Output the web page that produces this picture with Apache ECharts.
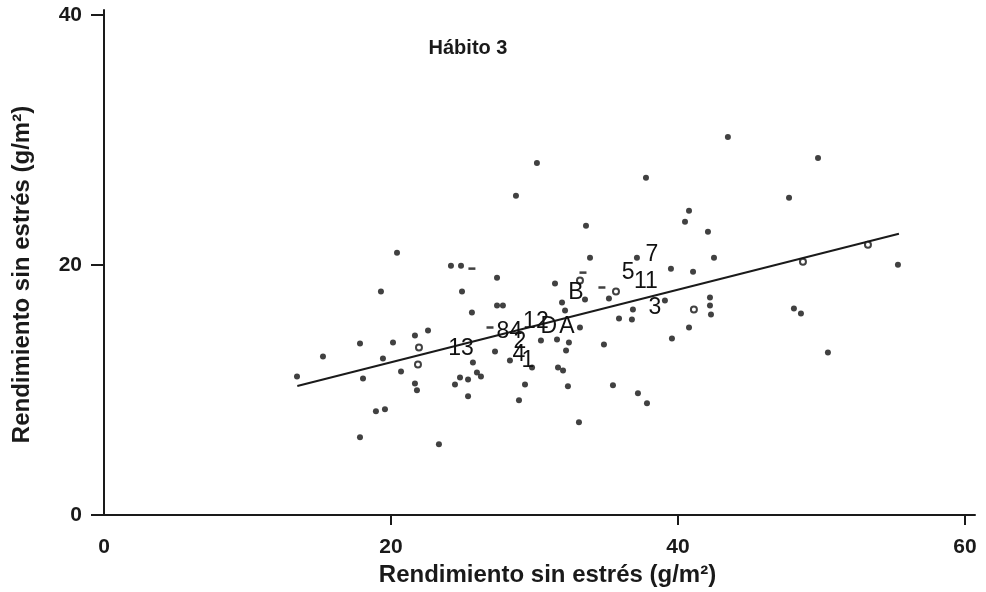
<!DOCTYPE html>
<html>
<head>
<meta charset="utf-8">
<script src="https://cdn.jsdelivr.net/npm/echarts@6/dist/echarts.min.js"></script>
<style>html,body{margin:0;padding:0;background:#fff;}#c{width:986px;height:592px;}</style>
</head>
<body>
<div id="c"></div>
<script>
// Filled points [x, y]
var filledPoints = [
  [43.48,30.25],[49.76,28.57],[30.17,28.17],[37.77,26.98],[47.74,25.38],[28.71,25.54],
  [40.77,24.34],[40.49,23.46],[33.59,23.14],[42.09,22.67],[20.42,20.99],[33.87,20.59],
  [37.14,20.59],[24.18,19.95],[24.88,19.95],[39.51,19.71],[41.05,19.47],[42.51,20.59],
  [27.39,18.99],[31.43,18.52],[35.19,17.32],[33.52,17.24],[19.30,17.88],[24.95,17.88],
  [55.33,20.03],[39.09,17.16],[42.23,17.40],[42.23,16.76],[42.30,16.04],[40.77,15.00],
  [48.08,16.52],[48.57,16.12],[50.45,13.01],[31.92,17.00],[36.86,16.44],[27.39,16.76],
  [27.80,16.76],[25.64,16.20],[32.13,16.36],[35.89,15.72],[36.79,15.64],[39.58,14.13],
  [34.84,13.65],[33.17,15.00],[32.40,13.81],[32.20,13.17],[31.57,14.05],[30.45,13.97],
  [31.64,11.81],[31.99,11.57],[32.33,10.30],[35.47,10.38],[37.21,9.74],[37.84,8.94],
  [33.10,7.42],[29.34,10.45],[28.92,9.18],[29.83,11.81],[28.29,12.37],[27.25,13.09],
  [25.71,12.21],[25.99,11.41],[26.27,11.09],[24.81,11.01],[25.37,10.85],[24.46,10.45],
  [25.37,9.50],[21.67,10.53],[21.81,9.98],[19.58,8.46],[18.95,8.30],[23.34,5.67],
  [20.14,13.81],[21.67,14.37],[22.58,14.76],[19.44,12.53],[20.70,11.49],[17.84,13.73],
  [15.26,12.69],[13.45,11.09],[18.05,10.93],[17.84,6.23]
];
// Open-circle points [x, y]
var openPoints = [
  [48.71,20.27],[41.11,16.44],[21.95,13.41],[21.88,12.05],[33.17,18.76],[35.68,17.88],[53.24,21.63]
];
// Short dash marks [x, y]
var dashPoints = [
  [26.90,15.00],[34.70,18.20],[33.38,19.39],[25.64,19.71]
];
// Text labels [x, y, text]
var textLabels = [
  [24.88,13.33,'13'],[27.80,14.68,'8'],[28.71,14.68,'4'],[30.10,15.45,'12'],[31.00,15.08,'D'],
  [32.26,15.08,'A'],[28.99,13.89,'2'],[28.92,12.85,'4'],[29.55,12.37,'1'],[32.89,17.80,'B'],
  [36.52,19.39,'5'],[38.19,20.83,'7'],[37.77,18.68,'11'],[38.40,16.60,'3']
];
// Regression line end points [x, y]
var regressionLine = [[13.47,10.32],[55.40,22.50]];
// Ticks
var xTicks = [0,20,40,60];
var xTickMarks = [20,40,60];
var yTicks = [0,20,40];

var chart = echarts.init(document.getElementById('c'), null, {renderer:'canvas'});
var ink = '#1a1a1a';
var option = {
  backgroundColor:'#ffffff',
  animation:false,
  title:{
    text:'Hábito 3', left:463, top:33, textAlign:'center',
    textStyle:{fontFamily:'Liberation Sans', fontWeight:'bold', fontSize:20, color:ink}
  },
  grid:{left:104, right:11, top:10, bottom:76},
  xAxis:{
    type:'value', min:0, max:60.7, interval:20,
    name:'Rendimiento sin estrés (g/m²)', nameLocation:'middle', nameGap:48,
    nameTextStyle:{fontFamily:'Liberation Sans', fontWeight:'bold', fontSize:24, color:ink, padding:[0,0,0,16]},
    axisLine:{show:true, lineStyle:{color:ink, width:2}},
    axisTick:{show:true, length:10, inside:false, customValues:xTickMarks, lineStyle:{color:ink, width:2}},
    axisLabel:{customValues:xTicks, margin:22, fontFamily:'Liberation Sans', fontWeight:'bold', fontSize:21, color:ink},
    splitLine:{show:false}
  },
  yAxis:{
    type:'value', min:0, max:40.4, interval:20,
    name:'Rendimiento sin estrés (g/m²)', nameLocation:'middle', nameGap:70,
    nameTextStyle:{fontFamily:'Liberation Sans', fontWeight:'bold', fontSize:24, color:ink, padding:[0,24,0,0]},
    axisLine:{show:true, lineStyle:{color:ink, width:2}},
    axisTick:{show:true, length:13, inside:false, customValues:yTicks, lineStyle:{color:ink, width:2}},
    axisLabel:{customValues:yTicks, margin:22, fontFamily:'Liberation Sans', fontWeight:'bold', fontSize:21, color:ink},
    splitLine:{show:false}
  },
  series:[
    {type:'line', data:regressionLine, symbol:'none', lineStyle:{color:ink, width:2}, z:3},
    {type:'scatter', data:filledPoints, symbol:'circle', symbolSize:6, itemStyle:{color:'#111111'}, z:4},
    {type:'scatter', data:openPoints, symbol:'emptyCircle', symbolSize:6, itemStyle:{color:'#111111', borderWidth:1.5}, z:4},
    {type:'scatter', data:dashPoints, symbol:'rect', symbolSize:[7,2.5], itemStyle:{color:'#111111'}, z:4},
    {type:'scatter', data:textLabels, symbol:'circle', symbolSize:1, itemStyle:{color:'rgba(0,0,0,0)'}, z:5,
      label:{show:true, position:'inside', formatter:function(p){return p.data[2];},
        fontFamily:'Liberation Sans', fontSize:23, color:'#111111', textBorderWidth:0, opacity:1}}
  ]
};
chart.setOption(option);
</script>
</body>
</html>
